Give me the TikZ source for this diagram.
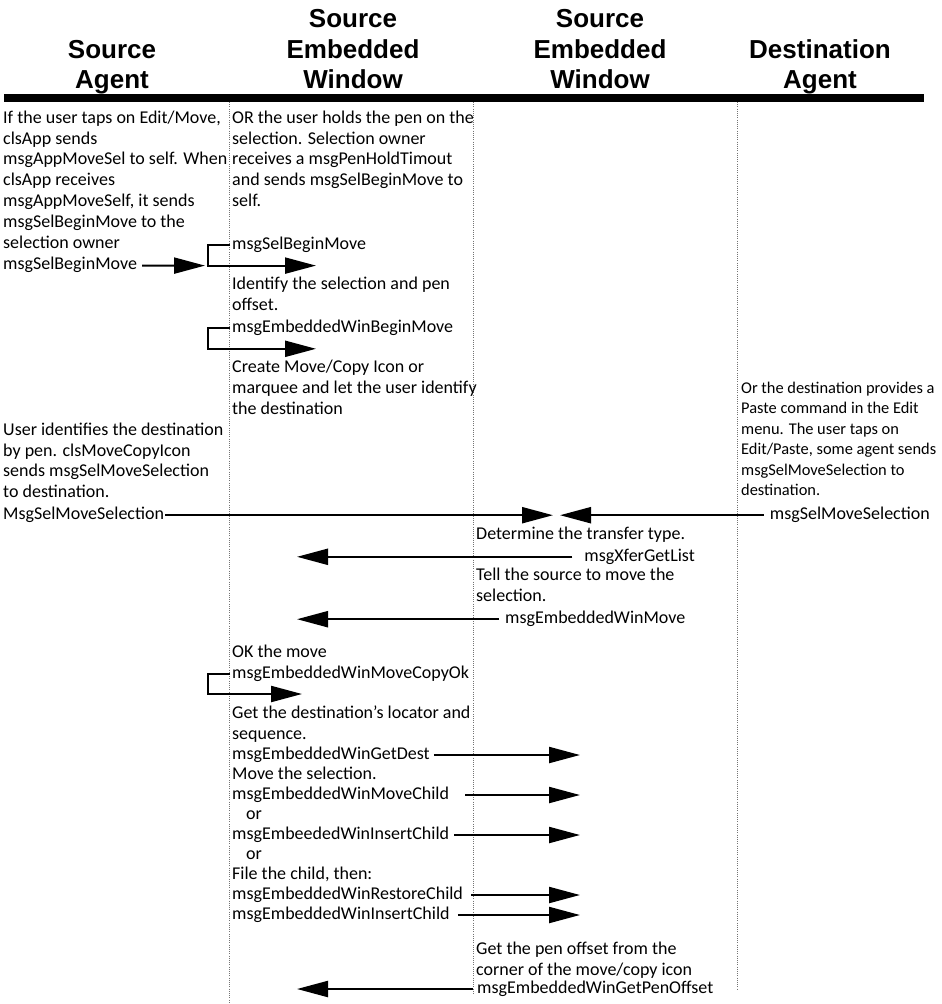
\documentclass[tikz,border=0pt]{standalone}
\usepackage{fontspec}
\setmainfont{Carlito}
\newfontfamily\headfont{Liberation Sans}
\usetikzlibrary{arrows.meta}
\begin{document}
\begin{tikzpicture}[x=1pt,y=-1pt,
  txt/.style={font=\fontsize{18}{20.8}\selectfont, inner sep=0pt},
  body/.style={txt, align=left, anchor=north west},
  msgtext/.style={txt, anchor=base west},
  msgright/.style={txt, anchor=base east},
  narrow/.style={font=\fontsize{16.4}{20.4}\selectfont},
  head/.style={font=\headfont\bfseries\fontsize{26}{30}\selectfont, inner sep=0pt, anchor=base},
  msg/.style={line width=2.2pt, -{Triangle[length=31pt,width=16pt]}},
  lifeline/.style={black!55, line width=0.6pt, dash pattern=on 0.8pt off 1.4pt}]
\useasboundingbox (0,0) rectangle (942,1004);
% headers
\node[head] (h1a) at (112,58.3) {Source};
\node[head] (h1b) at (112,88.3) {Agent};
\node[head] (h2a) at (353,27.3) {Source};
\node[head] (h2b) at (353,58.3) {Embedded};
\node[head] (h2c) at (353,88.3) {Window};
\node[head] (h3a) at (600,27.3) {Source};
\node[head] (h3b) at (600,58.3) {Embedded};
\node[head] (h3c) at (600,88.3) {Window};
\node[head] (h4a) at (820,58.3) {Destination};
\node[head] (h4b) at (820,88.3) {Agent};
\fill (4,94) rectangle (924,102);
% lifelines
\draw[lifeline] (229,102) -- (229,1004);
\draw[lifeline] (473,102) -- (473,995);
\draw[lifeline] (737,102) -- (737,990);
% column 1
\node[body] (A) at (3,110.5) {If the user taps on Edit/Move,\\clsApp sends\\msgAppMoveSel to self. When\\clsApp receives\\msgAppMoveSelf, it sends\\msgSelBeginMove to the\\selection owner};
\node[msgtext] (A2) at (3,269.9) {msgSelBeginMove};
\coordinate (A2tip) at (205,265.6);
\draw[msg] (A2.base east) ++(5,-4.3) -- (A2tip);
% column 2
\node[body] (B) at (232,110.5) {OR the user holds the pen on the\\selection. Selection owner\\receives a msgPenHoldTimout\\and sends msgSelBeginMove to\\self.};
\node[msgtext] (B2) at (232,249.1) {msgSelBeginMove};
\coordinate (B2tip) at (316,265.6);
\draw[msg] (B2.base west) ++(-2,-4.3) -- ++(-22,0) -- ++(0,20.8) -- (B2tip);
\node[body] (C) at (232,276.9) {Identify the selection and pen\\offset.};
\node[msgtext] (C2) at (232,332.3) {msgEmbeddedWinBeginMove};
\coordinate (C2tip) at (316,348.8);
\draw[msg] (C2.base west) ++(-2,-4.3) -- ++(-22,0) -- ++(0,20.8) -- (C2tip);
\node[body] (D) at (232,360.1) {Create Move/Copy Icon or\\marquee and let the user identify\\the destination};
% column 1, second block
\node[body] (E) at (3,422.5) {User identifies the destination\\by pen. clsMoveCopyIcon\\sends msgSelMoveSelection\\to destination.};
\node[msgtext] (E2) at (3,519.5) {MsgSelMoveSelection};
\coordinate (E2tip) at (553,515.2);
\draw[msg] (E2.base east) ++(1,-4.3) -- (E2tip);
% column 4
\node[body, narrow] (F) at (741,381.9) {Or the destination provides a\\Paste command in the Edit\\menu. The user taps on\\Edit/Paste, some agent sends\\msgSelMoveSelection to\\destination.};
\node[msgright] (F2) at (930,519.5) {msgSelMoveSelection};
\coordinate (F2tip) at (560,515.2);
\draw[msg] (F2.base west) ++(-6,-4.3) -- (F2tip);
% column 3
\node[body] (G) at (476,526.5) {Determine the transfer type.};
\node[msgright] (G2) at (695,561.1) {msgXferGetList};
\coordinate (G2tip) at (297,556.8);
\draw[msg] (G2.base west) ++(-12,-4.3) -- (G2tip);
\node[body] (H) at (476,568.1) {Tell the source to move the\\selection.};
\node[msgtext] (H2) at (505,623.5) {msgEmbeddedWinMove};
\coordinate (H2tip) at (297,619.2);
\draw[msg] (H2.base west) ++(-6,-4.3) -- (H2tip);
% column 2, lower part
\node[body] (I) at (232,644.5) {OK the move};
\node[msgtext] (I2) at (232,678.3) {msgEmbeddedWinMoveCopyOk};
\coordinate (I2tip) at (302,694);
\draw[msg] (I2.base west) ++(-2,-4.3) -- ++(-22,0) -- ++(0,20) -- (I2tip);
\node[body] (J) at (232,705.5) {Get the destination's locator and\\sequence.};
\node[msgtext] (J2) at (232,759.3) {msgEmbeddedWinGetDest};
\coordinate (J2tip) at (580,755);
\draw[msg] (J2.base east) ++(4,-4.3) -- (J2tip);
\node[msgtext] (J3) at (232,779.3) {Move the selection.};
\node[msgtext] (J4) at (232,799.3) {msgEmbeddedWinMoveChild};
\coordinate (J4tip) at (580,795);
\draw[msg] (J4.base east) ++(16,-4.3) -- (J4tip);
\node[msgtext] (J5) at (246,819.3) {or};
\node[msgtext] (J6) at (232,839.3) {msgEmbeededWinInsertChild};
\coordinate (J6tip) at (580,835);
\draw[msg] (J6.base east) ++(5,-4.3) -- (J6tip);
\node[msgtext] (J7) at (246,859.3) {or};
\node[msgtext] (J8) at (232,879.3) {File the child, then:};
\node[msgtext] (J9) at (232,899.3) {msgEmbeddedWinRestoreChild};
\coordinate (J9tip) at (580,895);
\draw[msg] (J9.base east) ++(8,-4.3) -- (J9tip);
\node[msgtext] (J10) at (232,919.3) {msgEmbeddedWinInsertChild};
\coordinate (J10tip) at (580,915);
\draw[msg] (J10.base east) ++(8,-4.3) -- (J10tip);
% column 3, bottom
\node[body] (K) at (476,941.5) {Get the pen offset from the\\corner of the move/copy icon};
\node[msgtext] (K2) at (477,993.3) {msgEmbeddedWinGetPenOffset};
\coordinate (K2tip) at (297,989);
\draw[msg] (K2.base west) ++(-4,-4.3) -- (K2tip);
\end{tikzpicture}
\end{document}
